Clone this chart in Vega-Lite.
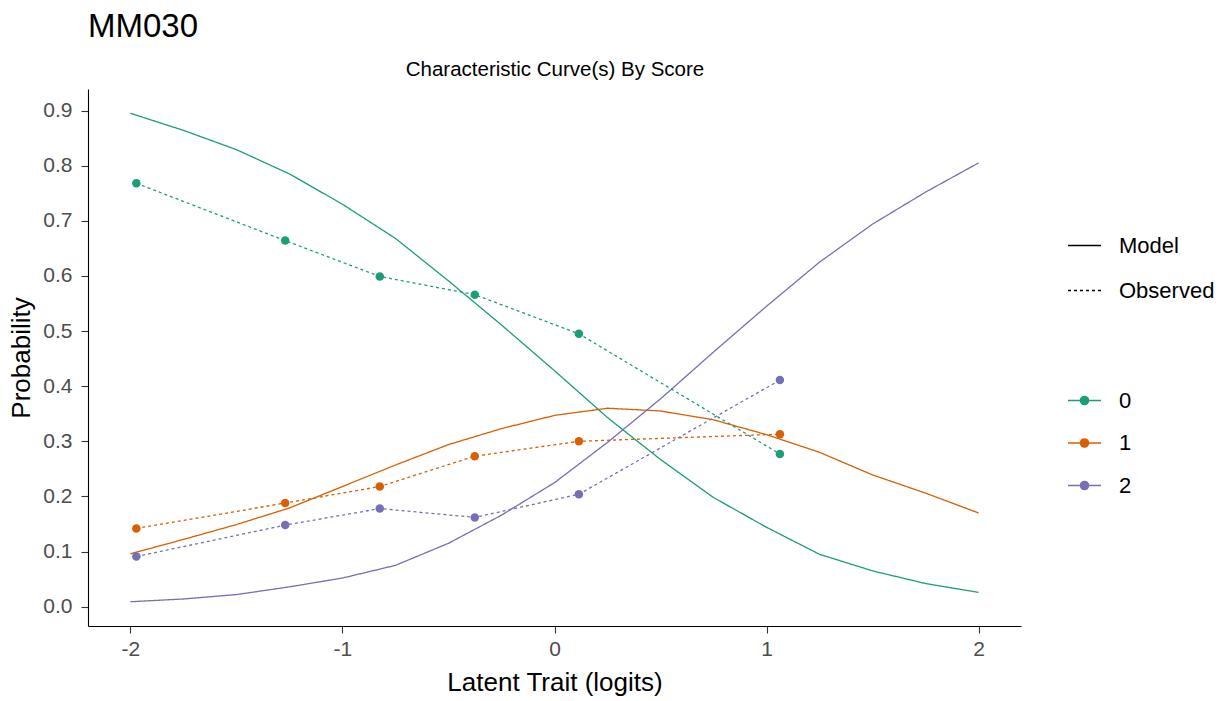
{
  "$schema": "https://vega.github.io/schema/vega-lite/v6.json",
  "autosize": {"type": "none"},
  "padding": {"left": 88, "top": 89, "right": 207, "bottom": 75},
  "width": 933,
  "height": 537,
  "background": "white",
  "title": {
    "text": "MM030",
    "anchor": "start",
    "frame": "group",
    "font": "Liberation Sans",
    "fontSize": 33,
    "fontWeight": "normal",
    "color": "black",
    "baseline": "alphabetic",
    "offset": -11
  },
  "config": {
    "view": {"stroke": null},
    "font": "Liberation Sans",
    "axis": {
      "grid": false,
      "domainColor": "black",
      "domainWidth": 1.1,
      "tickColor": "#333333",
      "tickWidth": 1.1,
      "tickSize": 7,
      "labelColor": "#4D4D4D",
      "labelFont": "Liberation Sans",
      "labelFontSize": 21,
      "labelPadding": 5,
      "titleFont": "Liberation Sans",
      "titleFontSize": 26,
      "titleFontWeight": "normal",
      "titleColor": "black"
    },
    "legend": {
      "labelFont": "Liberation Sans",
      "labelFontSize": 22,
      "labelColor": "black",
      "padding": 0
    }
  },
  "data": {
    "values": [
      {"theta": -2.0, "prob": 0.895, "score": "0", "type": "Model"},
      {"theta": -1.75, "prob": 0.864, "score": "0", "type": "Model"},
      {"theta": -1.5, "prob": 0.829, "score": "0", "type": "Model"},
      {"theta": -1.25, "prob": 0.785, "score": "0", "type": "Model"},
      {"theta": -1.0, "prob": 0.730, "score": "0", "type": "Model"},
      {"theta": -0.75, "prob": 0.668, "score": "0", "type": "Model"},
      {"theta": -0.5, "prob": 0.591, "score": "0", "type": "Model"},
      {"theta": -0.25, "prob": 0.511, "score": "0", "type": "Model"},
      {"theta": 0.0, "prob": 0.428, "score": "0", "type": "Model"},
      {"theta": 0.25, "prob": 0.343, "score": "0", "type": "Model"},
      {"theta": 0.5, "prob": 0.267, "score": "0", "type": "Model"},
      {"theta": 0.75, "prob": 0.198, "score": "0", "type": "Model"},
      {"theta": 1.0, "prob": 0.144, "score": "0", "type": "Model"},
      {"theta": 1.25, "prob": 0.095, "score": "0", "type": "Model"},
      {"theta": 1.5, "prob": 0.065, "score": "0", "type": "Model"},
      {"theta": 1.75, "prob": 0.042, "score": "0", "type": "Model"},
      {"theta": 2.0, "prob": 0.026, "score": "0", "type": "Model"},
      {"theta": -2.0, "prob": 0.096, "score": "1", "type": "Model"},
      {"theta": -1.75, "prob": 0.122, "score": "1", "type": "Model"},
      {"theta": -1.5, "prob": 0.149, "score": "1", "type": "Model"},
      {"theta": -1.25, "prob": 0.179, "score": "1", "type": "Model"},
      {"theta": -1.0, "prob": 0.218, "score": "1", "type": "Model"},
      {"theta": -0.75, "prob": 0.257, "score": "1", "type": "Model"},
      {"theta": -0.5, "prob": 0.294, "score": "1", "type": "Model"},
      {"theta": -0.25, "prob": 0.323, "score": "1", "type": "Model"},
      {"theta": 0.0, "prob": 0.347, "score": "1", "type": "Model"},
      {"theta": 0.25, "prob": 0.360, "score": "1", "type": "Model"},
      {"theta": 0.5, "prob": 0.355, "score": "1", "type": "Model"},
      {"theta": 0.75, "prob": 0.339, "score": "1", "type": "Model"},
      {"theta": 1.0, "prob": 0.312, "score": "1", "type": "Model"},
      {"theta": 1.25, "prob": 0.280, "score": "1", "type": "Model"},
      {"theta": 1.5, "prob": 0.239, "score": "1", "type": "Model"},
      {"theta": 1.75, "prob": 0.206, "score": "1", "type": "Model"},
      {"theta": 2.0, "prob": 0.170, "score": "1", "type": "Model"},
      {"theta": -2.0, "prob": 0.009, "score": "2", "type": "Model"},
      {"theta": -1.75, "prob": 0.014, "score": "2", "type": "Model"},
      {"theta": -1.5, "prob": 0.022, "score": "2", "type": "Model"},
      {"theta": -1.25, "prob": 0.036, "score": "2", "type": "Model"},
      {"theta": -1.0, "prob": 0.052, "score": "2", "type": "Model"},
      {"theta": -0.75, "prob": 0.075, "score": "2", "type": "Model"},
      {"theta": -0.5, "prob": 0.115, "score": "2", "type": "Model"},
      {"theta": -0.25, "prob": 0.166, "score": "2", "type": "Model"},
      {"theta": 0.0, "prob": 0.225, "score": "2", "type": "Model"},
      {"theta": 0.25, "prob": 0.298, "score": "2", "type": "Model"},
      {"theta": 0.5, "prob": 0.377, "score": "2", "type": "Model"},
      {"theta": 0.75, "prob": 0.462, "score": "2", "type": "Model"},
      {"theta": 1.0, "prob": 0.545, "score": "2", "type": "Model"},
      {"theta": 1.25, "prob": 0.625, "score": "2", "type": "Model"},
      {"theta": 1.5, "prob": 0.694, "score": "2", "type": "Model"},
      {"theta": 1.75, "prob": 0.752, "score": "2", "type": "Model"},
      {"theta": 2.0, "prob": 0.805, "score": "2", "type": "Model"},
      {"theta": -1.972, "prob": 0.768, "score": "0", "type": "Observed"},
      {"theta": -1.270, "prob": 0.664, "score": "0", "type": "Observed"},
      {"theta": -0.824, "prob": 0.599, "score": "0", "type": "Observed"},
      {"theta": -0.376, "prob": 0.566, "score": "0", "type": "Observed"},
      {"theta": 0.115, "prob": 0.495, "score": "0", "type": "Observed"},
      {"theta": 1.063, "prob": 0.277, "score": "0", "type": "Observed"},
      {"theta": -1.972, "prob": 0.142, "score": "1", "type": "Observed"},
      {"theta": -1.270, "prob": 0.188, "score": "1", "type": "Observed"},
      {"theta": -0.824, "prob": 0.218, "score": "1", "type": "Observed"},
      {"theta": -0.376, "prob": 0.273, "score": "1", "type": "Observed"},
      {"theta": 0.115, "prob": 0.300, "score": "1", "type": "Observed"},
      {"theta": 1.063, "prob": 0.313, "score": "1", "type": "Observed"},
      {"theta": -1.972, "prob": 0.091, "score": "2", "type": "Observed"},
      {"theta": -1.270, "prob": 0.148, "score": "2", "type": "Observed"},
      {"theta": -0.824, "prob": 0.178, "score": "2", "type": "Observed"},
      {"theta": -0.376, "prob": 0.162, "score": "2", "type": "Observed"},
      {"theta": 0.115, "prob": 0.204, "score": "2", "type": "Observed"},
      {"theta": 1.063, "prob": 0.411, "score": "2", "type": "Observed"}
    ]
  },
  "encoding": {
    "y": {
      "field": "prob",
      "type": "quantitative",
      "scale": {"domain": [-0.035, 0.939], "nice": false, "zero": false},
      "axis": {
        "title": "Probability",
        "values": [0, 0.1, 0.2, 0.3, 0.4, 0.5, 0.6, 0.7, 0.8, 0.9],
        "format": ".1f",
        "labelPadding": 9,
        "titlePadding": 8
      }
    },
    "color": {
      "field": "score",
      "type": "nominal",
      "scale": {"domain": ["0", "1", "2"], "range": ["#1B9E77", "#D95F02", "#7570B3"]},
      "legend": {
        "title": null,
        "orient": "none",
        "legendX": 979,
        "legendY": 294,
        "symbolType": "M-1,0H1M-0.25,0A0.25,0.25,0,1,0,0.25,0A0.25,0.25,0,1,0,-0.25,0Z",
        "symbolSize": 1089,
        "symbolStrokeWidth": 1.3,
        "labelOffset": 17,
        "rowPadding": 13.5,
        "encode": {
          "symbols": {
            "update": {
              "fill": {"scale": "color", "field": "value"},
              "stroke": {"scale": "color", "field": "value"},
              "opacity": {"value": 1}
            }
          }
        }
      }
    }
  },
  "layer": [
    {
      "mark": {"type": "line", "strokeWidth": 1.3},
      "encoding": {
        "x": {
          "field": "theta",
          "type": "quantitative",
          "scale": {"domain": [-2.2, 2.2], "nice": false, "zero": false},
          "axis": {
            "title": "Latent Trait (logits)",
            "values": [-2, -1, 0, 1, 2],
            "labelExpr": "'' + datum.value",
            "titlePadding": 10
          }
        },
        "strokeDash": {
          "field": "type",
          "type": "nominal",
          "scale": {"domain": ["Model", "Observed"], "range": [[1, 0], [3, 3]]},
          "legend": {
            "title": null,
            "orient": "none",
            "legendX": 979,
            "legendY": 139,
            "symbolType": "stroke",
            "symbolSize": 1089,
            "symbolStrokeColor": "black",
            "symbolStrokeWidth": 1.3,
            "labelOffset": 17,
            "rowPadding": 16
          }
        },
        "detail": {"field": "score"}
      }
    },
    {
      "transform": [{"filter": "datum.type === 'Observed'"}],
      "mark": {"type": "point", "filled": true, "opacity": 1, "size": 72},
      "encoding": {
        "x": {
          "field": "theta",
          "type": "quantitative",
          "axis": {
            "orient": "top",
            "title": "Characteristic Curve(s) By Score",
            "titleFontSize": 20.5,
            "titlePadding": 10,
            "labels": false,
            "ticks": false,
            "domain": false
          }
        }
      }
    }
  ],
  "resolve": {"axis": {"x": "independent"}}
}
